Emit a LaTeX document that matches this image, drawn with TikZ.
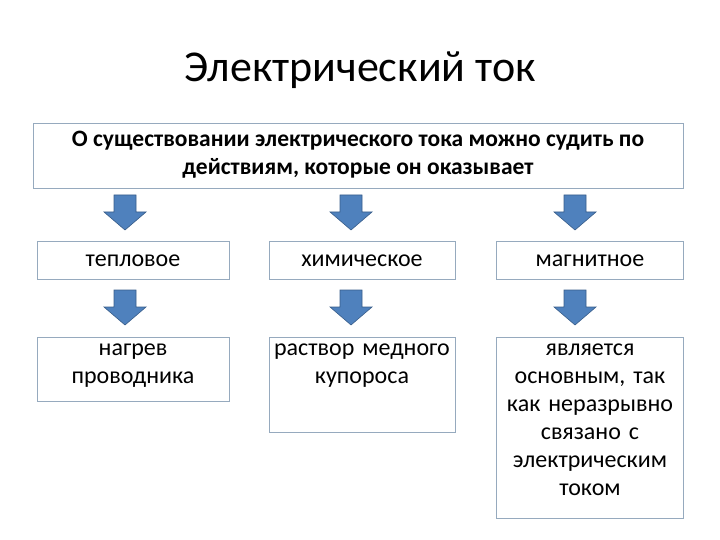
\documentclass[tikz,border=0pt]{standalone}
\usepackage{fontspec}
\setmainfont{Carlito}
\begin{document}
\begin{tikzpicture}[x=1pt,y=-1pt,
  box/.style={draw=bordc,line width=0.8pt,fill=white},
  txt/.style={font=\fontsize{24}{28}\selectfont,align=center,text width=186pt,inner sep=0pt},
  arr/.style={fill=arrc,draw=arrd,line width=0.6pt}]
\definecolor{bordc}{RGB}{150,170,190}
\definecolor{arrc}{RGB}{79,129,189}
\definecolor{arrd}{RGB}{56,93,138}
\useasboundingbox (0,0) rectangle (720,540);
\node (title) at (360,70) {\fontsize{44}{48}\selectfont Электрический ток};
\draw[box] (33,123) rectangle (683,188);
\node[font=\bfseries\fontsize{23.5}{28}\selectfont,align=center,inner sep=0pt] (top) at (358,155) {О существовании электрического тока можно судить по\\действиям, которые он оказывает};
\foreach \n/\cx in {a/125,b/351,c/575}{
  \draw[arr] (\cx-11,195) -- (\cx+11,195) -- (\cx+11,212) -- (\cx+21,212) -- (\cx,230) -- (\cx-21,212) -- (\cx-11,212) -- cycle;
  \draw[arr] (\cx-11,290) -- (\cx+11,290) -- (\cx+11,307) -- (\cx+21,307) -- (\cx,325) -- (\cx-21,307) -- (\cx-11,307) -- cycle;
}
\draw[box] (37,241) rectangle (229,279);
\draw[box] (269,241) rectangle (455,279);
\draw[box] (496,241) rectangle (683,279);
\node[txt] (r1a) at (133,261) {тепловое};
\node[txt] (r1b) at (362,261) {химическое};
\node[txt] (r1c) at (590,261) {магнитное};
\draw[box] (37,337) rectangle (229,401);
\draw[box] (269,337) rectangle (455,432);
\draw[box] (496,337) rectangle (683,518);
\node[txt,anchor=north] (r2a) at (133,344) {нагрев\\проводника};
\node[txt,anchor=north] (r2b) at (362,344) {раствор медного\\купороса};
\node[txt,anchor=north] (r2c) at (590,344) {является\\основным, так\\как неразрывно\\связано с\\электрическим\\током};
\end{tikzpicture}
\end{document}
